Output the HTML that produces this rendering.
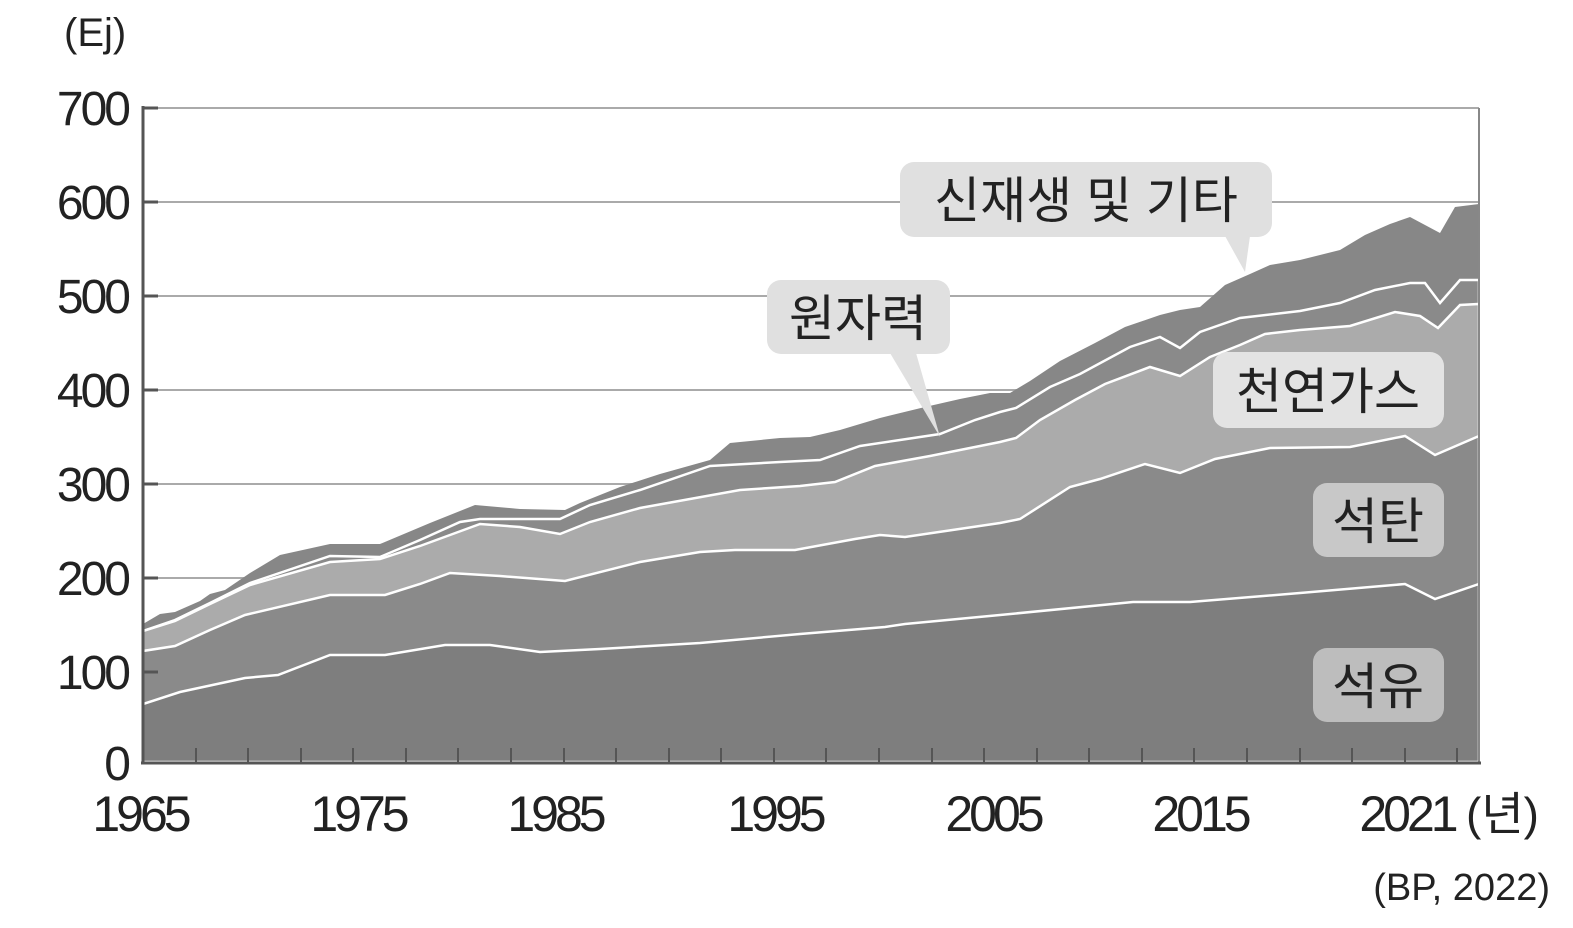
<!DOCTYPE html>
<html><head><meta charset="utf-8"><style>
body{margin:0;background:#fff}
svg text{font-family:"Liberation Sans","Noto Sans CJK KR",sans-serif}
</style></head><body>
<svg width="1573" height="923" viewBox="0 0 1573 923" xmlns="http://www.w3.org/2000/svg">
<g stroke="#aaa" stroke-width="2">
<line x1="143" y1="108" x2="1479" y2="108"/><line x1="143" y1="202" x2="1479" y2="202"/><line x1="143" y1="296" x2="1479" y2="296"/><line x1="143" y1="390" x2="1479" y2="390"/><line x1="143" y1="484" x2="1479" y2="484"/><line x1="143" y1="578" x2="1479" y2="578"/><line x1="143" y1="672" x2="1479" y2="672"/>
</g>
<line x1="1479" y1="108" x2="1479" y2="762" stroke="#888" stroke-width="2"/>
<polygon fill="#878787" points="143,762 143,624 160,614 175,612 200,601 210,594 225,590 250,573 280,555 330,544 380,544 430,523 475,505 520,509 565,510 580,503 620,487 660,474 710,460 730,443 780,438 810,437 840,430 880,418 925,407 960,399 990,393 1010,393 1030,381 1060,361 1095,343 1125,327 1160,315 1180,310 1200,307 1225,285 1250,274 1270,265 1300,260 1340,250 1365,235 1390,224 1410,217 1440,233 1455,207 1479,204 1479,762"/>
<polygon fill="#8a8a8a" stroke="#fff" stroke-width="2.5" points="143,762 143,631 175,620 210,603 250,583 330,556 380,557 420,540 460,522 480,519 560,519 590,505 640,490 710,466 780,462 820,460 860,446 900,440 940,434 975,420 1000,412 1016,408 1050,387 1080,374 1130,347 1160,337 1180,348 1200,332 1240,318 1300,311 1340,303 1375,290 1410,283 1425,283 1440,303 1460,280 1479,280 1479,762"/>
<polygon fill="#ababab" stroke="#fff" stroke-width="2.5" points="143,762 143,631 175,621 210,604 250,585 330,562 380,559 420,546 480,524 520,527 560,534 590,522 640,508 740,490 800,486 835,482 875,466 930,456 970,448 1000,442 1016,438 1040,420 1075,400 1105,384 1150,367 1180,376 1210,357 1240,345 1265,334 1300,330 1350,326 1395,312 1420,316 1438,328 1460,305 1479,304 1479,762"/>
<polygon fill="#8a8a8a" stroke="#fff" stroke-width="2.5" points="143,762 143,651 175,646 210,630 245,615 330,595 385,595 420,584 450,573 500,576 565,581 640,562 700,552 735,550 795,550 855,539 880,535 905,537 1000,523 1020,519 1070,487 1100,479 1145,464 1180,473 1215,459 1270,448 1350,447 1405,436 1435,455 1479,436 1479,762"/>
<polygon fill="#7e7e7e" stroke="#fff" stroke-width="2.5" points="143,762 143,704 180,692 245,678 278,675 330,655 385,655 445,645 490,645 540,652 600,649 700,643 800,634 885,627 905,624 1000,615 1133,602 1190,602 1300,593 1405,584 1435,599 1479,584 1479,762"/>
<line x1="1479" y1="200" x2="1479" y2="762" stroke="#888" stroke-width="2"/>
<g stroke="#555" stroke-width="3">
<line x1="143" y1="106" x2="143" y2="764"/><line x1="141" y1="763" x2="1481" y2="763"/>
<line x1="143" y1="108" x2="158" y2="108"/><line x1="143" y1="202" x2="158" y2="202"/><line x1="143" y1="296" x2="158" y2="296"/><line x1="143" y1="390" x2="158" y2="390"/><line x1="143" y1="484" x2="158" y2="484"/><line x1="143" y1="578" x2="158" y2="578"/><line x1="143" y1="672" x2="158" y2="672"/>
</g>
<g fill="#222" font-size="48" text-anchor="end" letter-spacing="-3">
<text x="128" y="125">700</text><text x="128" y="219">600</text><text x="128" y="313">500</text><text x="128" y="407">400</text><text x="128" y="501">300</text><text x="128" y="595">200</text><text x="128" y="689">100</text><text x="128" y="780">0</text>
</g>
<text x="64" y="46" font-size="40" fill="#222">(Ej)</text>
<g fill="#222" font-size="50" text-anchor="middle" letter-spacing="-4">
<text x="140" y="831">1965</text><text x="358" y="831">1975</text><text x="555" y="831">1985</text><text x="775" y="831">1995</text><text x="993" y="831">2005</text><text x="1200" y="831">2015</text><text x="1407" y="831">2021</text>
</g>
<text x="1466" y="830" font-size="46" fill="#222">(년)</text>
<text x="1550" y="900" font-size="38" fill="#222" text-anchor="end">(BP,  2022)</text>
<g font-size="50" fill="#222" text-anchor="middle">
<rect x="900" y="162" width="372" height="75" rx="14" fill="#e0e0e0"/>
<polygon points="1225,236 1250,236 1245,272" fill="#e0e0e0"/>
<text x="1086" y="218">신재생 및 기타</text>
<rect x="767" y="280" width="183" height="74" rx="14" fill="#e0e0e0"/>
<polygon points="890,353 916,353 940,437" fill="#e0e0e0"/>
<text x="858" y="336">원자력</text>
<rect x="1213" y="352" width="231" height="76" rx="14" fill="#e3e3e3"/>
<text x="1328" y="409">천연가스</text>
<rect x="1313" y="483" width="131" height="74" rx="14" fill="#c8c8c8"/>
<text x="1378" y="539">석탄</text>
<rect x="1313" y="648" width="131" height="74" rx="14" fill="#bdbdbd"/>
<text x="1378" y="704">석유</text>
</g>
<g stroke="#555" stroke-width="2">
<line x1="196" y1="762" x2="196" y2="748"/><line x1="248" y1="762" x2="248" y2="748"/><line x1="301" y1="762" x2="301" y2="748"/><line x1="353" y1="762" x2="353" y2="748"/><line x1="406" y1="762" x2="406" y2="748"/><line x1="458" y1="762" x2="458" y2="748"/><line x1="511" y1="762" x2="511" y2="748"/><line x1="564" y1="762" x2="564" y2="748"/><line x1="616" y1="762" x2="616" y2="748"/><line x1="669" y1="762" x2="669" y2="748"/><line x1="721" y1="762" x2="721" y2="748"/><line x1="774" y1="762" x2="774" y2="748"/><line x1="826" y1="762" x2="826" y2="748"/><line x1="879" y1="762" x2="879" y2="748"/><line x1="932" y1="762" x2="932" y2="748"/><line x1="984" y1="762" x2="984" y2="748"/><line x1="1037" y1="762" x2="1037" y2="748"/><line x1="1089" y1="762" x2="1089" y2="748"/><line x1="1142" y1="762" x2="1142" y2="748"/><line x1="1194" y1="762" x2="1194" y2="748"/><line x1="1247" y1="762" x2="1247" y2="748"/><line x1="1300" y1="762" x2="1300" y2="748"/><line x1="1352" y1="762" x2="1352" y2="748"/><line x1="1405" y1="762" x2="1405" y2="748"/><line x1="1457" y1="762" x2="1457" y2="748"/>
</g>
</svg>
</body></html>
